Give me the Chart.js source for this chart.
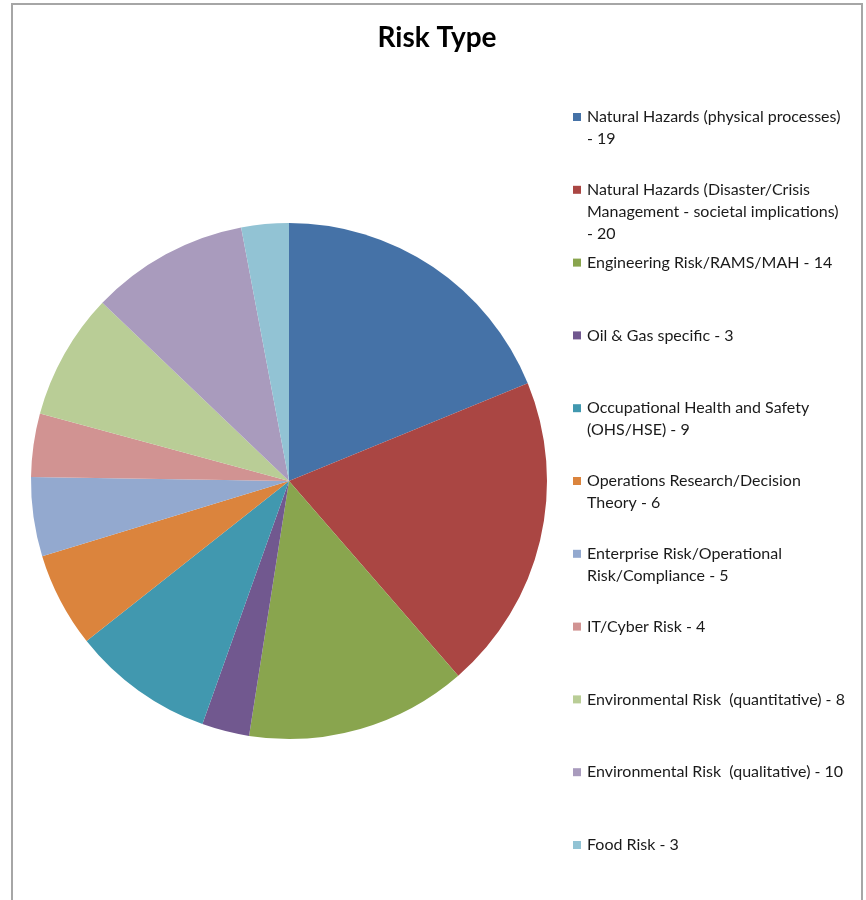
<!DOCTYPE html>
<html>
<head>
<meta charset="utf-8">
<script src="https://cdn.jsdelivr.net/npm/chart.js@4"></script>
<style>
  html, body { margin: 0; padding: 0; background: #fff; overflow: hidden; }
  #wrap { position: relative; width: 866px; height: 900px; }
  #frame { position: absolute; left: 11px; top: 3px; width: 848px; height: 920px; border: 2px solid #a6a6a6; pointer-events: none; }
  canvas { position: absolute; left: 0; top: 0; }
</style>
</head>
<body>
<div id="wrap">
  <canvas id="c" width="866" height="900"></canvas>
  <div id="frame"></div>
</div>
<script>
const chartTitle = "Risk Type";
const categories = [
  "Natural Hazards (physical processes)",
  "Natural Hazards (Disaster/Crisis Management - societal implications)",
  "Engineering Risk/RAMS/MAH",
  "Oil & Gas specific",
  "Occupational Health and Safety (OHS/HSE)",
  "Operations Research/Decision Theory",
  "Enterprise Risk/Operational Risk/Compliance",
  "IT/Cyber Risk",
  "Environmental Risk  (quantitative)",
  "Environmental Risk  (qualitative)",
  "Food Risk"
];
const counts = [19, 20, 14, 3, 9, 6, 5, 4, 8, 10, 3];
const legendLines = [
  ["Natural Hazards (physical processes)", "- 19"],
  ["Natural Hazards (Disaster/Crisis", "Management - societal implications)", "- 20"],
  ["Engineering Risk/RAMS/MAH - 14"],
  ["Oil & Gas specific - 3"],
  ["Occupational Health and Safety", "(OHS/HSE) - 9"],
  ["Operations Research/Decision", "Theory - 6"],
  ["Enterprise Risk/Operational", "Risk/Compliance - 5"],
  ["IT/Cyber Risk - 4"],
  ["Environmental Risk  (quantitative) - 8"],
  ["Environmental Risk  (qualitative) - 10"],
  ["Food Risk - 3"]
];
const colors = ["#4572A7", "#AA4643", "#89A54E", "#71588F", "#4198AF", "#DB843D",
                "#93A9CF", "#D19392", "#B9CD96", "#A99BBD", "#92C3D4"];

const overlay = {
  id: "overlay",
  afterDraw(chart) {
    const ctx = chart.ctx;
    ctx.save();
    ctx.fillStyle = "#000";
    ctx.font = "bold 28px Lato, 'Open Sans', sans-serif";
    ctx.textAlign = "center";
    ctx.textBaseline = "middle";
    ctx.fillText(chartTitle, 437, 38);
    ctx.font = "16px Lato, 'Open Sans', sans-serif";
    ctx.textAlign = "left";
    const start = 117, step = 72.8, lh = 22;
    legendLines.forEach((lines, i) => {
      const y = start + i * step;
      ctx.fillStyle = colors[i];
      ctx.fillRect(573, y - 4, 8, 8);
      ctx.fillStyle = "#1a1a1a";
      lines.forEach((t, k) => ctx.fillText(t, 587, y + k * lh));
    });
    ctx.restore();
  }
};

new Chart(document.getElementById("c"), {
  type: "pie",
  data: {
    labels: categories,
    datasets: [{
      data: counts,
      backgroundColor: colors,
      borderWidth: 0,
      hoverOffset: 0
    }]
  },
  options: {
    responsive: false,
    animation: false,
    layout: { padding: { left: 31, right: 319, top: 223, bottom: 161 } },
    plugins: { legend: { display: false }, title: { display: false }, tooltip: { enabled: false } }
  },
  plugins: [overlay]
});
</script>
</body>
</html>
